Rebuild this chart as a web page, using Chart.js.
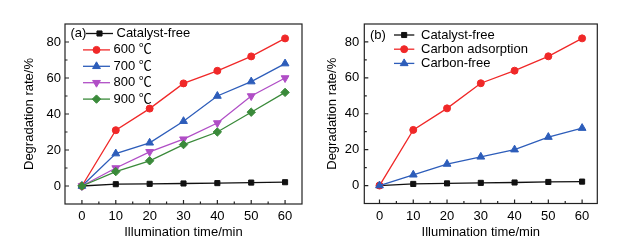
<!DOCTYPE html>
<html>
<head>
<meta charset="utf-8">
<script src="https://cdn.jsdelivr.net/npm/chart.js@4.4.1/dist/chart.umd.min.js"></script>
<style>
  html, body { margin: 0; padding: 0; background: #fff; }
  #wrap { position: relative; width: 617px; height: 243px; }
  .panel { position: absolute; top: 0; height: 243px; }
  #pa { left: 0; width: 310px; }
  #pb { left: 310px; width: 307px; }
</style>
</head>
<body>
<div id="wrap">
  <div class="panel" id="pa"><canvas id="chartA"></canvas></div>
  <div class="panel" id="pb"><canvas id="chartB"></canvas></div>
</div>
<script>
// illumination time (min) and tick values
var times = [0, 10, 20, 30, 40, 50, 60];
var xTicks = [0, 10, 20, 30, 40, 50, 60];
var yTicks = [0, 20, 40, 60, 80];

// panel (a): calcination temperature
var catalystFreeA = [0, 1, 1.2, 1.4, 1.6, 1.9, 2.1];
var t600 = [0, 31, 43, 57, 64, 72, 82];
var t700 = [0, 18, 24, 36, 50, 58, 68];
var t800 = [0, 10, 19, 26, 35, 50, 60];
var t900 = [0, 8, 14, 23, 30, 41, 52];

// panel (b): carbon
var catalystFreeB = [0, 0.9, 1.2, 1.5, 1.7, 2, 2.2];
var carbonAdsorption = [0, 31, 43, 57, 64, 72, 82];
var carbonFree = [0, 6, 12, 16, 20, 27, 32];

var FONT = 'Arial, "Liberation Sans", "Noto Sans CJK SC", sans-serif';
Chart.defaults.font.family = FONT;
Chart.defaults.font.size = 13;
Chart.defaults.color = '#000';

// later series are drawn on top (like the original plot), so order counts down
function series(label, values, color, style, rotation, radius, order) {
  return {
    label: label,
    data: times.map(function (t, i) { return { x: t, y: values[i] }; }),
    borderColor: color,
    backgroundColor: color,
    pointBackgroundColor: color,
    pointBorderColor: color,
    pointStyle: style,
    pointRotation: rotation,
    pointRadius: radius,
    pointBorderWidth: 1,
    borderWidth: 1.3,
    tension: 0,
    fill: false,
    order: order
  };
}

// box around the plot + inward ticks (major and minor)
var framePlugin = {
  id: 'frame',
  afterDraw: function (chart) {
    var ctx = chart.ctx, a = chart.chartArea;
    var sx = chart.scales.x, sy = chart.scales.y;
    ctx.save();
    ctx.strokeStyle = '#222';
    ctx.lineWidth = 1.2;
    ctx.strokeRect(a.left, a.top, a.right - a.left, a.bottom - a.top);
    ctx.beginPath();
    xTicks.forEach(function (v, i) {
      var px = sx.getPixelForValue(v);
      ctx.moveTo(px, a.bottom); ctx.lineTo(px, a.bottom - 4);
      if (i < xTicks.length - 1) {
        var mx = sx.getPixelForValue((v + xTicks[i + 1]) / 2);
        ctx.moveTo(mx, a.bottom); ctx.lineTo(mx, a.bottom - 2.5);
      }
    });
    yTicks.forEach(function (v, i) {
      var py = sy.getPixelForValue(v);
      ctx.moveTo(a.left, py); ctx.lineTo(a.left + 4, py);
      if (i < yTicks.length - 1) {
        var my = sy.getPixelForValue((v + yTicks[i + 1]) / 2);
        ctx.moveTo(a.left, my); ctx.lineTo(a.left + 2.5, my);
      }
    });
    ctx.stroke();
    ctx.restore();
  }
};

// legend drawn inside the plot, Origin style (line + marker + text)
var legendPlugin = {
  id: 'insetLegend',
  afterDatasetsDraw: function (chart, args, o) {
    var ctx = chart.ctx, a = chart.chartArea;
    ctx.save();
    ctx.font = '13px ' + FONT;
    ctx.textBaseline = 'middle';
    ctx.textAlign = 'left';
    ctx.fillStyle = '#000';
    ctx.fillText(o.tag, a.left + o.tagX, a.top + o.y0);
    chart.data.datasets.forEach(function (ds, i) {
      var y = a.top + o.y0 + i * o.step;
      var shift = i === 0 ? o.firstShift : 0;
      var x1 = a.left + o.lineX1 + shift, x2 = a.left + o.lineX2 + shift;
      ctx.strokeStyle = ds.borderColor;
      ctx.lineWidth = ds.borderWidth;
      ctx.beginPath(); ctx.moveTo(x1, y); ctx.lineTo(x2, y); ctx.stroke();
      ctx.fillStyle = ds.pointBackgroundColor;
      ctx.lineWidth = 1;
      Chart.helpers.drawPoint(ctx, {
        pointStyle: ds.pointStyle, radius: ds.pointRadius,
        rotation: ds.pointRotation, borderWidth: 1
      }, (x1 + x2) / 2, y);
      ctx.fillStyle = '#000';
      ctx.fillText(ds.label, a.left + o.textX + shift, y);
    });
    ctx.restore();
  }
};

function makeChart(id, datasets, cfg) {
  var ctx = document.getElementById(id).getContext('2d');
  return new Chart(ctx, {
    type: 'line',
    data: { datasets: datasets },
    options: {
      maintainAspectRatio: false,
      animation: false,
      layout: { padding: cfg.padding },
      plugins: {
        legend: { display: false },
        tooltip: { enabled: false },
        insetLegend: cfg.legend
      },
      scales: {
        x: {
          type: 'linear',
          min: cfg.xMin,
          max: cfg.xMax,
          afterBuildTicks: function (s) { s.ticks = xTicks.map(function (v) { return { value: v }; }); },
          afterFit: function (s) { s.height = cfg.xHeight; },
          grid: { display: false, drawTicks: false },
          border: { display: false },
          ticks: { padding: 5, maxRotation: 0, autoSkip: false },
          title: { display: true, text: 'Illumination time/min', padding: { top: 0, bottom: 3 } }
        },
        y: {
          min: -10,
          max: 90,
          afterBuildTicks: function (s) { s.ticks = yTicks.map(function (v) { return { value: v }; }); },
          afterFit: function (s) { s.width = cfg.yWidth; },
          grid: { display: false, drawTicks: false },
          border: { display: false },
          ticks: { padding: cfg.yTickPad },
          title: { display: true, text: 'Degradation rate/%', padding: { top: cfg.yTitlePad, bottom: 0 } }
        }
      }
    },
    plugins: [framePlugin, legendPlugin]
  });
}

makeChart('chartA', [
  series('Catalyst-free', catalystFreeA, '#111111', 'rect', 0, 3.6, 5),
  series('600 ℃', t600, '#F02828', 'circle', 0, 3.5, 4),
  series('700 ℃', t700, '#2D5DBA', 'triangle', 0, 4.5, 3),
  series('800 ℃', t800, '#B04EC6', 'triangle', 180, 4.5, 2),
  series('900 ℃', t900, '#3A8A3A', 'rectRot', 0, 4.2, 1)
], {
  padding: { left: 0, right: 8, top: 24, bottom: 0 },
  xMin: -5, xMax: 65, xHeight: 39, yWidth: 65, yTickPad: 4, yTitlePad: 22,
  legend: { tag: '(a)', tagX: 5.5, y0: 9.5, step: 16.4, lineX1: 18, lineX2: 45, firstShift: 3, textX: 48.5 }
});

makeChart('chartB', [
  series('Catalyst-free', catalystFreeB, '#111111', 'rect', 0, 3.6, 3),
  series('Carbon adsorption', carbonAdsorption, '#F02828', 'circle', 0, 3.5, 2),
  series('Carbon-free', carbonFree, '#2D5DBA', 'triangle', 0, 4.5, 1)
], {
  padding: { left: 0, right: 19.7, top: 24, bottom: 0 },
  xMin: -4.5, xMax: 64.5, xHeight: 39.5, yWidth: 54.3, yTickPad: 5, yTitlePad: 14.7,
  legend: { tag: '(b)', tagX: 5.7, y0: 11, step: 14.2, lineX1: 29.7, lineX2: 50, firstShift: 0, textX: 56.7 }
});
</script>
</body>
</html>
